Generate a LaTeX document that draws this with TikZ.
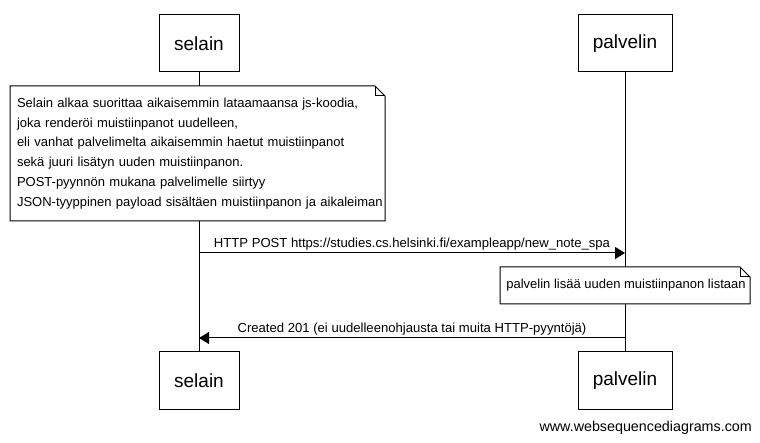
\documentclass[tikz,border=0pt]{standalone}
\usepackage{fontspec}
\setmainfont{Liberation Sans}
\usetikzlibrary{arrows.meta,positioning,calc}

\tikzset{
  actor/.style={draw,line width=1pt,fill=white,minimum width=80pt,minimum height=57pt,
    font=\fontsize{19}{22}\selectfont,inner sep=0pt},
  lifeline/.style={line width=1pt},
  notebox/.style={inner sep=0pt,align=left,font=\fontsize{13}{19.8}\selectfont},
  noteline/.style={draw,fill=white,line width=1pt,line join=miter},
  msg/.style={line width=1pt,-{Triangle[length=10pt,width=12pt]}},
  msglabel/.style={font=\fontsize{13.1}{15}\selectfont,anchor=base,yshift=5pt}
}

\begin{document}
\begin{tikzpicture}[x=1pt,y=-1pt]
  \useasboundingbox (0,0) rectangle (760,443);
  % Participants
  \node[actor] (selain-top) at (199,43.5) {selain};
  \node[actor,minimum width=94pt] (palvelin-top) at (625,43.5) {palvelin};
  \node[actor] (selain-bot) at (199,380.5) {selain};
  \node[actor,minimum width=94pt] (palvelin-bot) at (625,380.5) {palvelin};
  % Lifelines
  \draw[lifeline] (selain-top.south) -- (selain-bot.north);
  \draw[lifeline] (palvelin-top.south) -- (palvelin-bot.north);
  % Note on selain: frame corners first, text on top
  \coordinate (js-nw) at (10,86);
  \coordinate (js-se) at (385,221);
  \draw[noteline] (js-nw) -- ($(js-nw -| js-se)+(-10,0)$) -- ($(js-nw -| js-se)+(0,10)$)
    -- (js-se) -- (js-se -| js-nw) -- cycle;
  \draw[noteline,fill=none] ($(js-nw -| js-se)+(-10,0)$) -- ($(js-nw -| js-se)+(-10,10)$)
    -- ($(js-nw -| js-se)+(0,10)$);
  \node[notebox,text width=366pt] (note-js) at ($(js-nw)!0.5!(js-se)+(2.5,0)$)
    {Selain alkaa suorittaa aikaisemmin lataamaansa js-koodia,\\
     joka renderöi muistiinpanot uudelleen,\\
     eli vanhat palvelimelta aikaisemmin haetut muistiinpanot\\
     sekä juuri lisätyn uuden muistiinpanon.\\
     POST-pyynnön mukana palvelimelle siirtyy\\
     JSON-tyyppinen payload sisältäen muistiinpanon ja aikaleiman};
  % Request
  \coordinate (post-from) at (199,253);
  \coordinate (post-to) at (625,253);
  \draw[msg] (post-from) -- (post-to)
    node[midway,msglabel]{HTTP POST https://studies.cs.helsinki.fi/exampleapp/new\_note\_spa};
  % Note on palvelin
  \coordinate (add-nw) at (500,267);
  \coordinate (add-se) at (750,304);
  \draw[noteline] (add-nw) -- ($(add-nw -| add-se)+(-10,0)$) -- ($(add-nw -| add-se)+(0,10)$)
    -- (add-se) -- (add-se -| add-nw) -- cycle;
  \draw[noteline,fill=none] ($(add-nw -| add-se)+(-10,0)$) -- ($(add-nw -| add-se)+(-10,10)$)
    -- ($(add-nw -| add-se)+(0,10)$);
  \node[notebox,align=center] (note-add) at ($(add-nw)!0.5!(add-se)+(1,0)$)
    {palvelin lisää uuden muistiinpanon listaan};
  % Response
  \coordinate (resp-from) at (625,338);
  \coordinate (resp-to) at (199,338);
  \draw[msg] (resp-from) -- (resp-to)
    node[midway,msglabel]{Created 201 (ei uudelleenohjausta tai muita HTTP-pyyntöjä)};
  % Footer
  \node[anchor=east,font=\fontsize{14.3}{16}\selectfont,inner sep=0pt] (footer) at (752,428)
    {www.websequencediagrams.com};
\end{tikzpicture}
\end{document}
